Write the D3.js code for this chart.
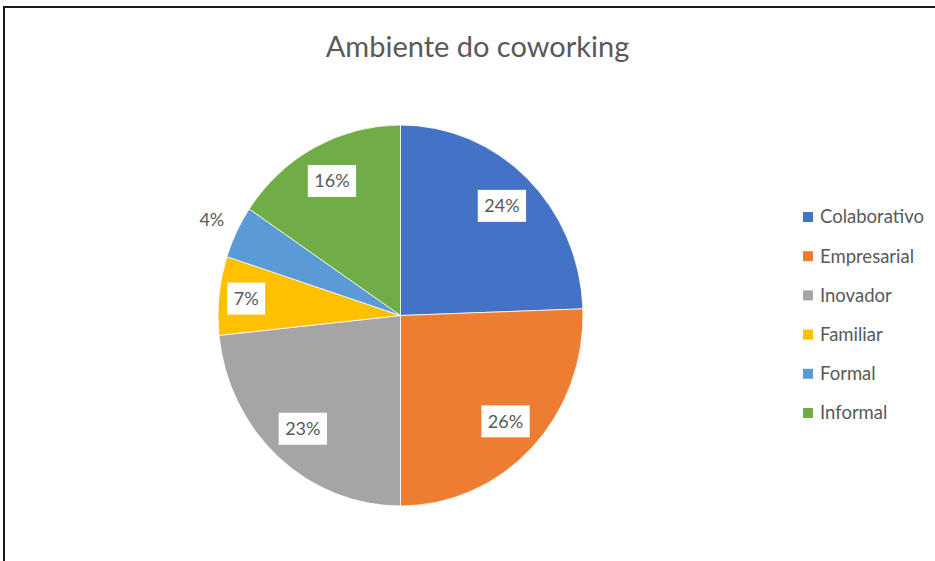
<!DOCTYPE html>
<html><head><meta charset="utf-8">
<script src="https://cdn.jsdelivr.net/npm/d3@7"></script>
<style>body{margin:0;background:#fff;} svg{display:block;}</style>
</head><body>
<svg id="chart" width="935" height="561"></svg>
<script>
const categories = ["Colaborativo","Empresarial","Inovador","Familiar","Formal","Informal"];
const values = [22,23,21,6,4,14];
const colors = ["#4472C4","#ED7D31","#A5A5A5","#FFC000","#5B9BD5","#70AD47"];
const title = "Ambiente do coworking";

const svg = d3.select("#chart");
const font = "Lato, 'Open Sans', sans-serif";
const textColor = "#595959";

// outer frame
svg.append("rect").attr("x",4).attr("y",7).attr("width",1200).attr("height",1200)
  .attr("fill","none").attr("stroke","#1a1a1a").attr("stroke-width",2);

svg.append("text").attr("x",477.5).attr("y",57).attr("text-anchor","middle")
  .attr("font-family",font).attr("font-size",29).attr("fill",textColor).text(title);

const total = d3.sum(values);
const cx = 400.5, cy = 315.5, r = 182.5, sy = 190.5/182.5;
const data = categories.map((c,i)=>({cat:c,value:values[i],label:Math.round(values[i]/total*100)+"%",color:colors[i]}));
const pie = d3.pie().sort(null).value(d=>d.value);
const arcs = pie(data);
const arc = d3.arc().innerRadius(0).outerRadius(r);

const g = svg.append("g").attr("transform",`translate(${cx},${cy}) scale(1,${sy})`);
g.selectAll("path").data(arcs).join("path")
  .attr("d",arc).attr("fill",d=>d.data.color)
  .attr("stroke","#fff").attr("stroke-width",0.75);

const lg = svg.append("g").attr("transform",`translate(${cx},${cy})`);
arcs.forEach(a=>{
  const share = a.data.value/total;
  const inside = share >= 0.05;
  const f = !inside ? 1.15 : (share < 0.1 ? 0.85 : 0.8);
  const mid = (a.startAngle+a.endAngle)/2;
  const x = Math.sin(mid)*r*f, y = -Math.cos(mid)*r*f*sy;
  const grp = lg.append("g").attr("transform",`translate(${x},${y})`);
  const t = grp.append("text").attr("text-anchor","middle").attr("dy","0.35em")
    .attr("font-family",font).attr("font-size",18).attr("fill",textColor).text(a.data.label);
  if(inside){
    const bb = t.node().getBBox();
    grp.insert("rect","text").attr("x",-(bb.width+13)/2).attr("y",-16)
      .attr("width",bb.width+13).attr("height",32).attr("fill","#fff");
  }
});

const leg = svg.append("g");
data.forEach((d,i)=>{
  const y = 217 + i*39.2;
  leg.append("rect").attr("x",803).attr("y",y-5).attr("width",10).attr("height",10).attr("fill",d.color);
  leg.append("text").attr("x",820).attr("y",y).attr("dy","0.35em")
    .attr("font-family",font).attr("font-size",18.5).attr("fill",textColor).text(d.cat);
});
</script>
</body></html>
